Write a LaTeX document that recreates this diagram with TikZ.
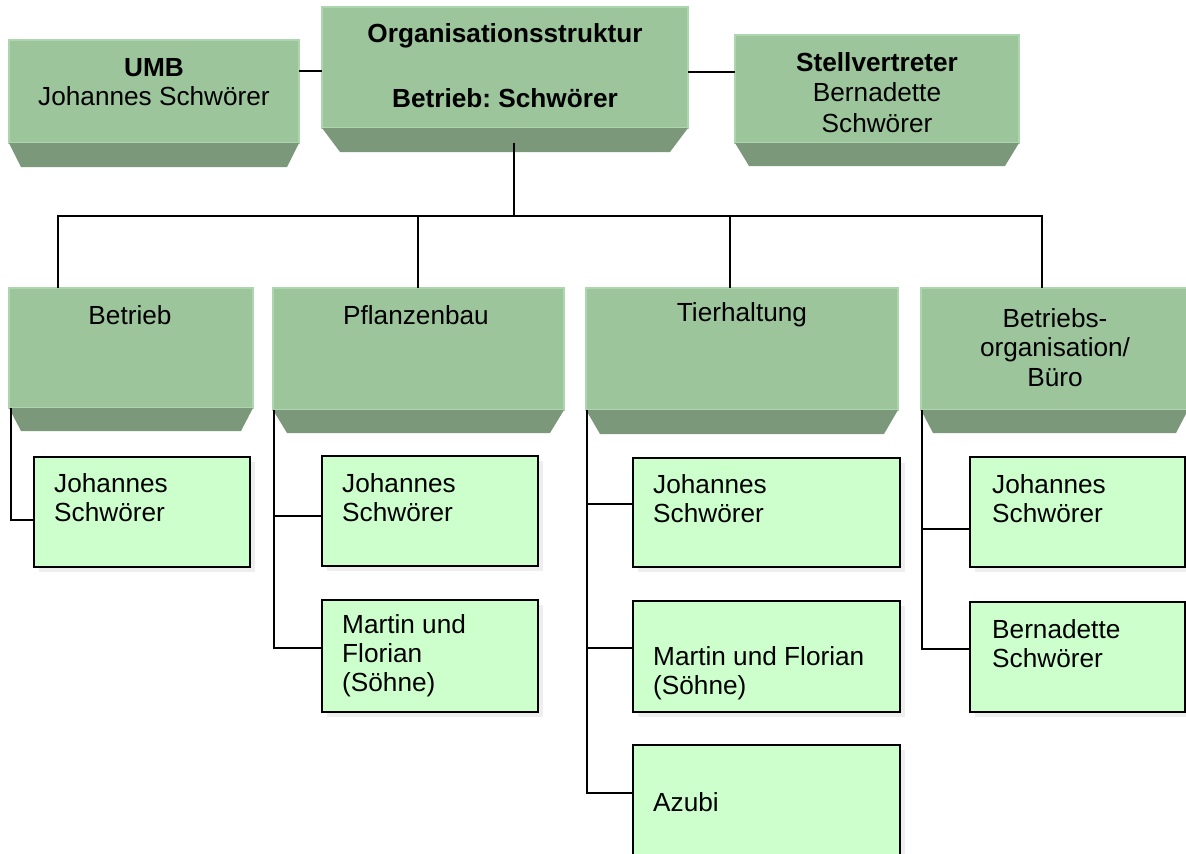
\documentclass[tikz,border=0pt]{standalone}
\usepackage{fontspec}
\setmainfont{Liberation Sans}
\usetikzlibrary{calc,shadows}
\definecolor{facegreen}{HTML}{9CC59C}
\definecolor{faceedge}{HTML}{AED6AE}
\definecolor{bevelgreen}{HTML}{7B987A}
\definecolor{leafgreen}{HTML}{CCFFCC}
\definecolor{shadowgray}{HTML}{EEEEEE}
\newcommand\bevelfill[3]{\fill[bevelgreen] (#1.south west) -- (#1.south east) -- ([xshift=-#2pt,yshift=-#3pt]#1.south east) -- ([xshift=#2pt,yshift=-#3pt]#1.south west) -- cycle;}
\frenchspacing
\begin{document}
\begin{tikzpicture}[x=1pt,y=-1pt,
  face/.style={fill=facegreen, draw=faceedge, line width=1.2pt, inner sep=0pt, outer sep=0pt, anchor=north west},
  leaf/.style={fill=leafgreen, draw=black, line width=1.3pt, inner sep=0pt, outer sep=0pt, anchor=north west,
    drop shadow={fill=shadowgray, draw=none, opacity=1, shadow xshift=5pt, shadow yshift=-5pt}},
  lbl/.style={font=\fontsize{26.2}{29}\selectfont, inner sep=0pt, align=center},
  leaflbl/.style={font=\fontsize{26.2}{29}\selectfont, inner sep=0pt, align=left, anchor=west},
  conn/.style={draw=black, line width=1.3pt},
]
\useasboundingbox (0,0) rectangle (1186,854);

% ---- top row
\node[face, minimum width=290pt, minimum height=103pt] (umb) at (9,40) {};
\bevelfill{umb}{12}{24}
\node[face, minimum width=366pt, minimum height=121pt] (org) at (322,7) {};
\bevelfill{org}{18}{24}
\node[face, minimum width=284pt, minimum height=108pt] (stv) at (735,35) {};
\bevelfill{stv}{14}{23}

\node[lbl] (umbt) at (154,82.5) {\textbf{UMB}\\Johannes Schwörer};
\node[lbl] (orgt) at (505,65.5) {\textbf{Organisationsstruktur}\\[36pt]\textbf{Betrieb: Schwörer}};
\node[lbl, font=\fontsize{26.2}{30.5}\selectfont] (stvt) at (877,92.5) {\textbf{Stellvertreter}\\Bernadette\\Schwörer};

% ---- second row
\node[face, minimum width=244pt, minimum height=120pt] (b1) at (9,288) {};
\bevelfill{b1}{12}{23}
\node[face, minimum width=291pt, minimum height=122pt] (b2) at (273,288) {};
\bevelfill{b2}{14}{23}
\node[face, minimum width=312pt, minimum height=122pt] (b3) at (586,288) {};
\bevelfill{b3}{14}{24}
\node[face, minimum width=267pt, minimum height=122pt] (b4) at (921,288) {};
\bevelfill{b4}{12}{23}

\node[lbl] (b1t) at (130,315) {Betrieb};
\node[lbl] (b2t) at (416,315) {Pflanzenbau};
\node[lbl] (b3t) at (742,315) {Tierhaltung};
\node[lbl, font=\fontsize{26.2}{29.5}\selectfont] (b4t) at (1055,347.5) {Betriebs-\\organisation/\\Büro};

% ---- leaves
\node[leaf, minimum width=216pt, minimum height=110pt] (c1) at (34,457) {};
\node[leaf, minimum width=216pt, minimum height=110pt] (p1) at (322,456) {};
\node[leaf, minimum width=216pt, minimum height=112pt] (p2) at (322,600) {};
\node[leaf, minimum width=267pt, minimum height=109pt] (t1) at (633,458) {};
\node[leaf, minimum width=267pt, minimum height=111pt] (t2) at (633,601) {};
\node[leaf, minimum width=267pt, minimum height=130pt] (t3) at (633,745) {};
\node[leaf, minimum width=215pt, minimum height=110pt] (o1) at (970,457) {};
\node[leaf, minimum width=215pt, minimum height=110pt] (o2) at (970,602) {};

\node[leaflbl] (c1t) at (54,498) {Johannes\\Schwörer};
\node[leaflbl] (p1t) at (342,497.5) {Johannes\\Schwörer};
\node[leaflbl] (p2t) at (342,656) {Martin und\\Florian\\(Söhne)};
\node[leaflbl] (t1t) at (653,499) {Johannes\\Schwörer};
\node[leaflbl] (t2t) at (653,673.5) {Martin und Florian\\(Söhne)};
\node[leaflbl] (t3t) at (653,802) {Azubi};
\node[leaflbl] (o1t) at (992,499) {Johannes\\Schwörer};
\node[leaflbl] (o2t) at (992,643.5) {Bernadette\\Schwörer};

% ---- connectors
\coordinate (hub) at (514,216);
\draw[conn] ([yshift=-31pt]umb.north east) -- ([yshift=-31pt]umb.north east -| org.west);
\draw[conn] ([yshift=-37pt]stv.north west) -- ([yshift=-37pt]stv.north west -| org.east);
\draw[conn] ([xshift=9pt,yshift=-15pt]org.south) -- (hub);
\draw[conn] (hub) -| ([xshift=49pt]b1.north west);
\draw[conn] (hub) -| ([xshift=145pt]b2.north west);
\draw[conn] (hub) -| ([xshift=144pt]b3.north west);
\draw[conn] (hub) -| ([xshift=121pt]b4.north west);

\draw[conn] ([xshift=2pt]b1.south west) |- ([yshift=-8pt]c1.west);
\draw[conn] ([xshift=1pt]b2.south west) |- ([yshift=-5pt]p1.west);
\draw[conn] ([xshift=1pt]b2.south west) |- ([yshift=8pt]p2.west);
\draw[conn] ([xshift=1pt]b3.south west) |- ([yshift=8.5pt]t1.west);
\draw[conn] ([xshift=1pt]b3.south west) |- ([yshift=8.5pt]t2.west);
\draw[conn] ([xshift=1pt]b3.south west) |- ([yshift=17pt]t3.west);
\draw[conn] ([xshift=1pt]b4.south west) |- ([yshift=-17pt]o1.west);
\draw[conn] ([xshift=1pt]b4.south west) |- ([yshift=8pt]o2.west);
\end{tikzpicture}
\end{document}
